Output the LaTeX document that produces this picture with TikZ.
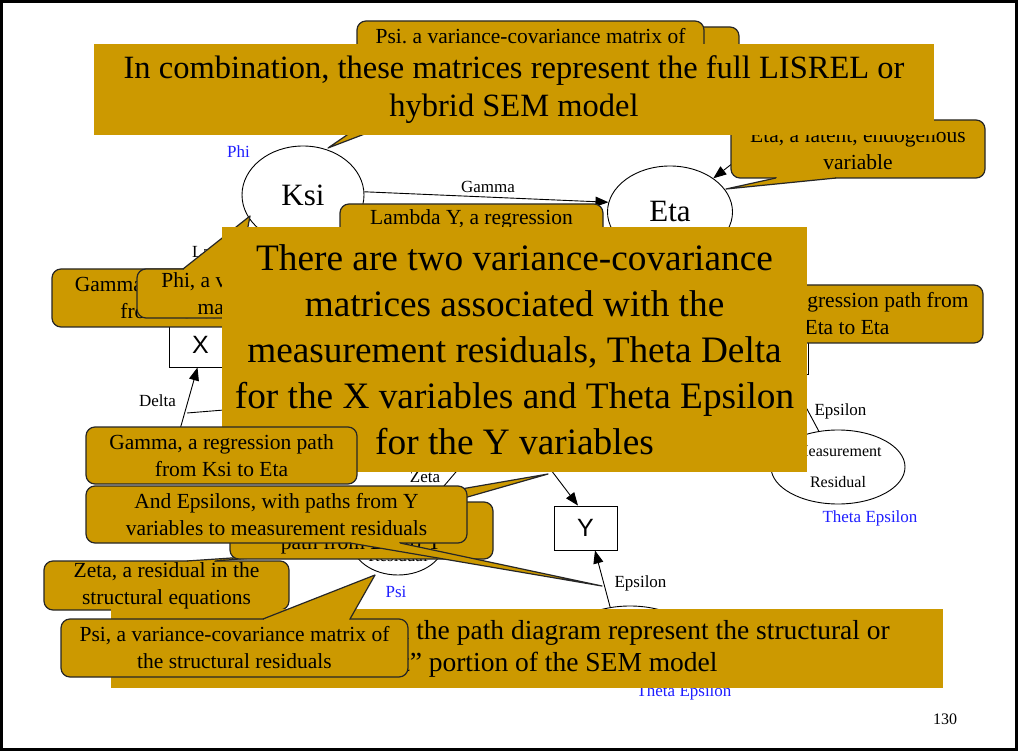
\documentclass[tikz,border=0pt]{standalone}
\usepackage{fontspec}
\setmainfont{Liberation Serif}
\newfontfamily\arialfont{Liberation Sans}
\usepackage{xcolor}
\usepackage{tikz}
\usetikzlibrary{arrows.meta,calc,shapes.geometric}
\definecolor{mGold}{HTML}{CC9900}
\definecolor{mBlue}{HTML}{1F1FFF}
\definecolor{mEdge}{HTML}{262626}
\frenchspacing
% wedge of a callout: base start, tip, base end
\newcommand{\calloutwedge}[3]{%
  \fill[mGold] #1 -- #2 -- #3 -- cycle;
  \draw[mGold, line width=2.4pt, shorten <=1pt, shorten >=1pt] #1 -- #3;
  \draw[mEdge, line width=1.2pt, line join=round] #1 -- #2 -- #3;}

\begin{document}
\begin{tikzpicture}[x=1pt, y=-1pt,
  note/.style={draw=mEdge, line width=1.2pt, fill=mGold, rounded corners=9pt, inner sep=0pt, align=center, font=\fontsize{21.5}{27}\selectfont},
  panel/.style={fill=mGold, inner sep=0pt, align=center},
  latent/.style={draw, ellipse, fill=white, line width=0.9pt, inner sep=0pt},
  observed/.style={draw, fill=white, line width=0.9pt, minimum width=63, minimum height=44, inner sep=0pt, font=\arialfont\fontsize{25}{25}\selectfont},
  lbl/.style={font=\fontsize{17}{20}\selectfont, inner sep=0pt},
  mat/.style={lbl, text=mBlue},
  regarrow/.style={-{Triangle[length=13pt,width=10pt]}, line width=0.9pt}]
\useasboundingbox (0,0) rectangle (1018,751);
\fill[white] (0,0) rectangle (1018,751);
\draw[line width=3pt] (1.5,1.5) rectangle (1016.5,749.5);

% path diagram
\node[latent, minimum width=122, minimum height=98, font=\fontsize{31}{31}\selectfont] (ksi) at (303,195) {Ksi};
\node[latent, minimum width=125, minimum height=92, font=\fontsize{31}{31}\selectfont] (eta) at (670,212) {Eta};
\node[latent, minimum width=124, minimum height=92] (eta2) at (507,412) {};
\node[observed] (xbox) at (200.5,345) {X};
\node[observed] (ybox) at (585.5,528) {Y};
\node[observed] (ytwo) at (776.5,352) {};
\node[latent, minimum width=94, minimum height=70] (zres) at (398,540) {};
\node[lbl] (zrestext) at (398,556) {Residual};
\node[latent, minimum width=134, minimum height=74, align=center, font=\fontsize{16}{31}\selectfont] (mres) at (838,467) {Measurement\\Residual};
\node[latent, minimum width=134, minimum height=74] (yres) at (630,643) {};
\coordinate (dres) at (177,440);
\coordinate (etain) at (760,142);
\coordinate (tdA) at (187,413);
\coordinate (tdB) at (224,410);

\draw[regarrow] (ksi.3) -- (eta.171);
\draw[regarrow] (ksi) -- (xbox);
\draw[regarrow] (dres) -- ([xshift=-3pt]xbox.south);
\draw[line width=0.9pt] (tdA) -- (tdB);
\draw[regarrow] (zres) -- (eta2);
\draw[regarrow] (eta2) -- ([xshift=-7.5pt]ybox.north);
\draw[regarrow] (yres.119) -- ([xshift=9.5pt]ybox.south);
\draw[regarrow] (mres) -- (ytwo);
\draw[regarrow] (etain) -- (eta);

\node[mat] (philbl) at (238.5,152) {Phi};
\node[lbl] (gammalbl) at (488,187) {Gamma};
\node[lbl, anchor=west] (lamxlbl) at (192,252) {Lambda X};
\node[lbl] (deltalbl) at (157.5,401) {Delta};
\node[lbl] (zetalbl) at (425,477) {Zeta};
\node[mat] (psilbl) at (396,592) {Psi};
\node[lbl] (epslbl) at (640.5,583) {Epsilon};
\node[lbl] (epstwolbl) at (840.5,411) {Epsilon};
\node[mat] (thepslbl) at (870,518) {Theta Epsilon};
\node[mat] (thepstwolbl) at (684,692) {Theta Epsilon};

% callouts, back to front
\node[note, minimum width=334, minimum height=58] (ksinote) at (572,56) {};
\calloutwedge{(420,85)}{(328,148)}{(493,85)}
\node[note, minimum width=347, minimum height=58] (psinotetop) at (530.5,50) {Psi. a variance-covariance matrix of\\the structural residuals};
\node[note, minimum width=254, minimum height=58] (etanote) at (858,149) {Eta, a latent, endogenous\\variable};
\calloutwedge{(776,178)}{(726,189)}{(836,178)}
\node[panel, minimum width=840, minimum height=91, font=\fontsize{32.5}{38}\selectfont] (fullpanel) at (514,89.5) {In combination, these matrices represent the full LISREL or\\hybrid SEM model};
\node[note, minimum width=263, minimum height=58] (lamynote) at (471.5,233) {Lambda Y, a regression\\path from Eta to Y};
\node[note, minimum width=270, minimum height=58] (gammanote) at (187,298) {Gamma, a regression path\\from Ksi to Eta};
\node[note, minimum width=276, minimum height=49] (phinote) at (275,293.5) {Phi, a variance-covariance\\matrix of the Ksis};
\calloutwedge{(183,269)}{(250,216)}{(240,269)}
\node[note, minimum width=272, minimum height=58] (betanote) at (847,314) {Beta, a regression path from\\Eta to Eta};
\node[panel, minimum width=585, minimum height=245, font=\fontsize{37.3}{46}\selectfont] (residpanel) at (514.5,349.5) {There are two variance-covariance\\matrices associated with the\\measurement residuals, Theta Delta\\for the X variables and Theta Epsilon\\for the Y variables};
\node[note, minimum width=271, minimum height=57] (gammanotetwo) at (221.5,455.5) {Gamma, a regression path\\from Ksi to Eta};
\node[note, minimum width=245, minimum height=49] (zetanote) at (166.5,585.5) {Zeta, a residual in the\\structural equations};
\calloutwedge{(187,561)}{(350,550)}{(215,561)}
\node[note, minimum width=263, minimum height=57] (lamynotetwo) at (361.5,530.5) {Lambda Y, a regression\\path from Eta to Y};
\calloutwedge{(386,502)}{(548,474)}{(450,502)}
\node[note, minimum width=381, minimum height=57] (epsnote) at (276.5,514.5) {And Epsilons, with paths from Y\\variables to measurement residuals};
\calloutwedge{(350,543)}{(602,586)}{(400,543)}
\node[panel, minimum width=832, minimum height=79, font=\fontsize{27.5}{32}\selectfont] (structpanel) at (527,648.5) {The latent variables in the path diagram represent the structural or\\``latent'' portion of the SEM model};
\node[note, minimum width=347, minimum height=58] (psinote) at (234.5,648) {Psi, a variance-covariance matrix of\\the structural residuals};
\calloutwedge{(263,619)}{(375,575)}{(350,619)}
\node[font=\fontsize{16}{16}\selectfont] (pagenum) at (945,719) {130};
\end{tikzpicture}
\end{document}
